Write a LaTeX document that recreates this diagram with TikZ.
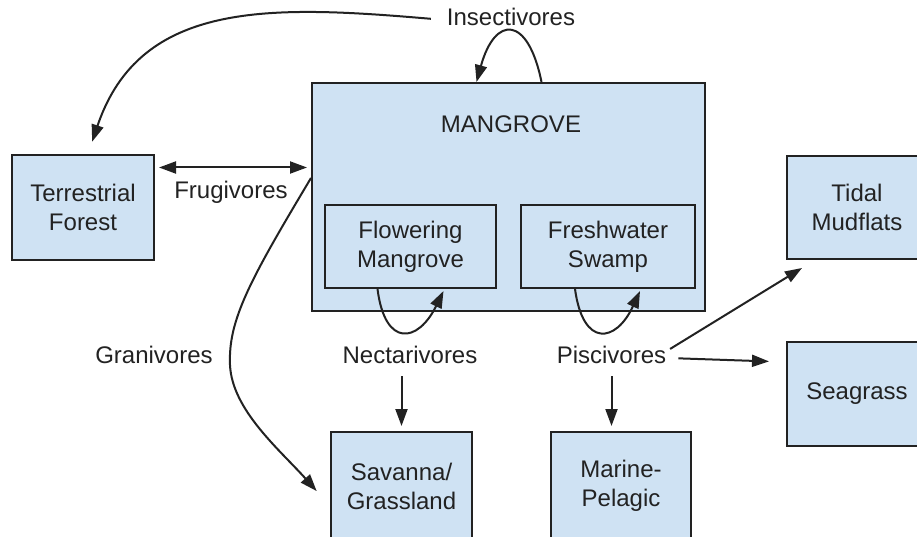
\documentclass[tikz,border=0pt]{standalone}
\usepackage{fontspec}
\setmainfont{Liberation Sans}
\usetikzlibrary{arrows.meta}
\definecolor{boxblue}{HTML}{CFE2F3}
\definecolor{ink}{HTML}{222222}
\tikzset{
  habitat/.style={
    draw = ink,
    line width = 2pt,
    fill = boxblue,
    align = center,
    inner sep = 0pt,
    text = ink,
    font = \fontsize{24}{29}\selectfont
  },
  guild/.style={
    text = ink,
    inner sep = 2pt,
    text height = 17pt,
    text depth = 5pt,
    font = \fontsize{24}{29}\selectfont
  },
  flow/.style={
    draw = ink,
    line width = 2pt,
    -{Triangle[length=17pt,width=12pt]}
  }
}

\begin{document}
\begin{tikzpicture}[x=1pt,y=-1pt]
    \useasboundingbox (0,0) rectangle (917,537);
    % habitats
    \node[habitat, minimum width=142pt, minimum height=105pt] (forest) at (83,207.5) {Terrestrial\\Forest};
    \node[habitat, minimum width=393pt, minimum height=228pt] (mangrove) at (508.5,197) {};
    \node[guild] (mangrovetitle) at (511,127) {MANGROVE};
    \node[habitat, minimum width=171pt, minimum height=83pt] (flowering) at (410.5,246.5) {Flowering\\Mangrove};
    \node[habitat, minimum width=174pt, minimum height=83pt] (swamp) at (608,246.5) {Freshwater\\Swamp};
    \node[habitat, minimum width=140pt, minimum height=103pt] (tidal) at (857,207.5) {Tidal\\Mudflats};
    \node[habitat, minimum width=140pt, minimum height=104pt] (seagrass) at (857,394) {Seagrass};
    \node[habitat, minimum width=141pt, minimum height=108pt] (savanna) at (401.5,486) {Savanna/\\Grassland};
    \node[habitat, minimum width=140pt, minimum height=108pt] (marine) at (621,486) {Marine-\\Pelagic};
    % guilds
    \node[guild] (insect) at (511,20) {Insectivores};
    \node[guild] (frug) at (231,193) {Frugivores};
    \node[guild] (gran) at (154,357) {Granivores};
    \node[guild] (nectar) at (410,357) {Nectarivores};
    \node[guild] (pisc) at (611.5,357) {Piscivores};
    % movements
    \draw[flow, shorten <=14pt, shorten >=13pt] (insect.west) .. controls (270,5) and (140,0) .. ([xshift=5pt]forest.north);
    \draw[flow] ([xshift=33pt]mangrove.north) .. controls (528,15) and (495,15) .. ([xshift=-32pt]mangrove.north);
    \draw[flow, {Triangle[length=17pt,width=12pt]}-{Triangle[length=17pt,width=12pt]}, shorten <=4pt, shorten >=4pt]
        ([yshift=40pt]forest.east) -- ([yshift=40pt]forest.east -| mangrove.west);
    \draw[flow, shorten >=20pt] ([yshift=19pt]mangrove.west) .. controls (250,280) and (228,320) .. (230,365)
        .. controls (232,410) and (280,450) .. ([yshift=-20pt]savanna.west);
    \draw[flow] ([xshift=-33pt]flowering.south) .. controls (385,348) and (418,343) .. ([xshift=33pt,yshift=-2pt]flowering.south);
    \draw[flow] ([xshift=-33pt]swamp.south) .. controls (583,348) and (616,343) .. ([xshift=32pt,yshift=-2pt]swamp.south);
    \draw[flow, shorten <=6pt, shorten >=5pt] (nectar.south -| savanna.north) -- (savanna.north);
    \draw[flow, shorten <=6pt, shorten >=5pt] (pisc.south) -- (pisc.south |- marine.north);
    \draw[flow, shorten <=2pt] ([yshift=7pt]pisc.east) -- ([shift={(16pt,-8pt)}]tidal.south west);
    \draw[flow, shorten <=10pt, shorten >=17pt] ([yshift=-1pt]pisc.east) -- ([yshift=32pt]seagrass.west);
\end{tikzpicture}
\end{document}
